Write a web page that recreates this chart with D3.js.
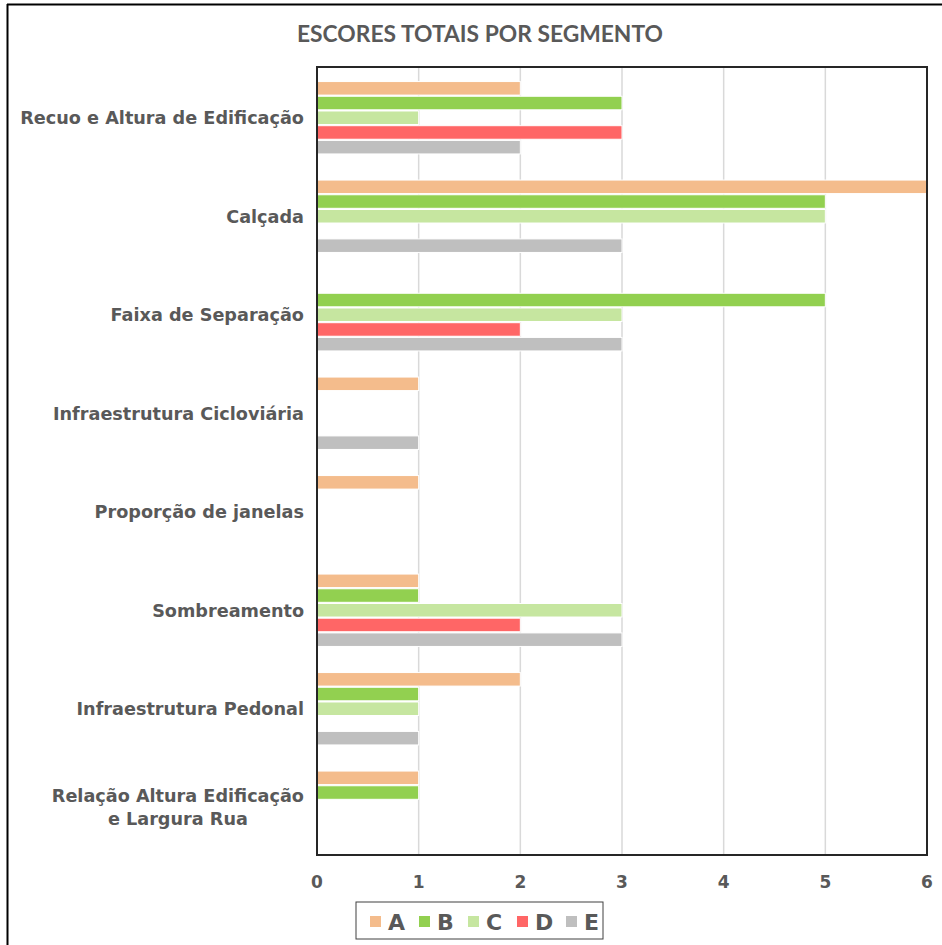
<!DOCTYPE html>
<html>
<head>
<meta charset="utf-8">
<script src="https://cdnjs.cloudflare.com/ajax/libs/d3/7.8.5/d3.min.js"></script>
<style>
  body { margin: 0; background: #fff; }
  svg { display: block; }
</style>
</head>
<body>
<script>
// chart data
var categories = [
  ["Recuo e Altura de Edificação"],
  ["Calçada"],
  ["Faixa de Separação"],
  ["Infraestrutura Cicloviária"],
  ["Proporção de janelas"],
  ["Sombreamento"],
  ["Infraestrutura Pedonal"],
  ["Relação Altura Edificação", "e Largura Rua"]
];
var segments = ["A", "B", "C", "D", "E"];
var segA = [2, 6, 0, 1, 1, 1, 2, 1];
var segB = [3, 5, 5, 0, 0, 1, 1, 1];
var segC = [1, 5, 3, 0, 0, 3, 1, 0];
var segD = [3, 0, 2, 0, 0, 2, 0, 0];
var segE = [2, 3, 3, 1, 0, 3, 1, 0];
var xTicks = [0, 1, 2, 3, 4, 5, 6];
var segColors = ["#F4BC8C", "#92D050", "#C6E6A0", "#FF6666", "#BFBFBF"];

var series = [segA, segB, segC, segD, segE];

var width = 942, height = 945;
var textColor = "#595959";
var labelFont = "'DejaVu Sans', sans-serif";

var svg = d3.select("body").append("svg")
  .attr("width", width)
  .attr("height", height);

// outer frame (image is a crop of a bigger page)
svg.append("line").attr("x1", 7.5).attr("x2", 7.5).attr("y1", 4).attr("y2", height)
  .attr("stroke", "#000").attr("stroke-width", 2);
svg.append("line").attr("x1", 7).attr("x2", width).attr("y1", 4.5).attr("y2", 4.5)
  .attr("stroke", "#000").attr("stroke-width", 2);

// title
svg.append("text")
  .attr("x", 480).attr("y", 42)
  .attr("text-anchor", "middle")
  .attr("textLength", 366)
  .attr("lengthAdjust", "spacingAndGlyphs")
  .style("font-family", "Lato, 'Open Sans', sans-serif")
  .style("font-weight", "bold")
  .style("font-size", "23px")
  .style("fill", textColor)
  .text("ESCORES TOTAIS POR SEGMENTO");

var plot = { left: 317, right: 927, top: 67, bottom: 855 };

var x = d3.scaleLinear().domain([0, 6]).range([plot.left, plot.right]);

var y = d3.scaleBand()
  .domain(d3.range(categories.length))
  .range([plot.top + 1.5, plot.bottom + 1.5])
  .paddingInner(0.265)
  .paddingOuter(0.1325);

var ySeg = d3.scaleBand()
  .domain(segments)
  .range([0, y.bandwidth()])
  .paddingInner(0.08);

// gridlines
svg.append("g")
  .selectAll("line")
  .data(xTicks.slice(1, -1))
  .enter()
  .append("line")
  .attr("x1", function(d) { return x(d); })
  .attr("x2", function(d) { return x(d); })
  .attr("y1", plot.top)
  .attr("y2", plot.bottom)
  .attr("stroke", "#D9D9D9")
  .attr("stroke-width", 1.5);

// bars
var groups = svg.append("g")
  .selectAll("g")
  .data(categories)
  .enter()
  .append("g")
  .attr("transform", function(d, i) { return "translate(0," + y(i) + ")"; });

groups.selectAll("rect")
  .data(function(d, i) {
    return segments.map(function(s, k) { return { seg: s, k: k, value: series[k][i] }; });
  })
  .enter()
  .filter(function(d) { return d.value > 0; })
  .append("rect")
  .attr("x", x(0))
  .attr("y", function(d) { return ySeg(d.seg); })
  .attr("width", function(d) { return x(d.value) - x(0); })
  .attr("height", ySeg.bandwidth())
  .attr("fill", function(d) { return segColors[d.k]; })
  .attr("stroke", "#fff")
  .attr("stroke-width", 1);

// plot border
svg.append("rect")
  .attr("x", plot.left).attr("y", plot.top)
  .attr("width", plot.right - plot.left)
  .attr("height", plot.bottom - plot.top)
  .attr("fill", "none")
  .attr("stroke", "#262626")
  .attr("stroke-width", 2);

// x tick labels
svg.append("g")
  .selectAll("text")
  .data(xTicks)
  .enter()
  .append("text")
  .attr("x", function(d) { return x(d); })
  .attr("y", 888)
  .attr("text-anchor", "middle")
  .style("font-family", labelFont)
  .style("font-weight", "bold")
  .style("font-size", "17px")
  .style("fill", textColor)
  .text(function(d) { return d; });

// category labels, fit font size to the reference width of the first one
var probe = svg.append("text")
  .style("font-family", labelFont)
  .style("font-weight", "bold")
  .style("font-size", "18px")
  .text(categories[0][0]);
var fs = 18 * 284 / probe.node().getComputedTextLength();
probe.remove();

var labelRight = 304;
categories.forEach(function(lines, i) {
  var cy = y(i) + y.bandwidth() / 2;
  var lineH = 23;
  if (lines.length === 1) {
    svg.append("text")
      .attr("x", labelRight)
      .attr("y", cy + fs * 0.36)
      .attr("text-anchor", "end")
      .style("font-family", labelFont)
      .style("font-weight", "bold")
      .style("font-size", fs + "px")
      .style("fill", textColor)
      .text(lines[0]);
  } else {
    var first = svg.append("text")
      .attr("x", labelRight)
      .attr("y", cy - lineH / 2 + fs * 0.36)
      .attr("text-anchor", "end")
      .style("font-family", labelFont)
      .style("font-weight", "bold")
      .style("font-size", fs + "px")
      .style("fill", textColor)
      .text(lines[0]);
    var w = first.node().getComputedTextLength();
    svg.append("text")
      .attr("x", labelRight - w / 2)
      .attr("y", cy + lineH / 2 + fs * 0.36)
      .attr("text-anchor", "middle")
      .style("font-family", labelFont)
      .style("font-weight", "bold")
      .style("font-size", fs + "px")
      .style("fill", textColor)
      .text(lines[1]);
  }
});

// legend
var legendBox = svg.append("g").attr("transform", "translate(356,902)");
legendBox.append("rect")
  .attr("width", 247).attr("height", 37)
  .attr("fill", "#fff")
  .attr("stroke", "#404040")
  .attr("stroke-width", 1);

var legend = legendBox.selectAll("g.item")
  .data(segments)
  .enter()
  .append("g")
  .attr("class", "item")
  .attr("transform", function(d, i) { return "translate(" + (14 + i * 49) + ",0)"; });

legend.append("rect")
  .attr("x", 0).attr("y", 14)
  .attr("width", 11).attr("height", 11)
  .attr("fill", function(d, i) { return segColors[i]; });

legend.append("text")
  .attr("x", 18)
  .attr("y", 27.5)
  .style("font-family", labelFont)
  .style("font-weight", "bold")
  .style("font-size", "22px")
  .style("fill", textColor)
  .text(function(d) { return d; });
</script>
</body>
</html>
